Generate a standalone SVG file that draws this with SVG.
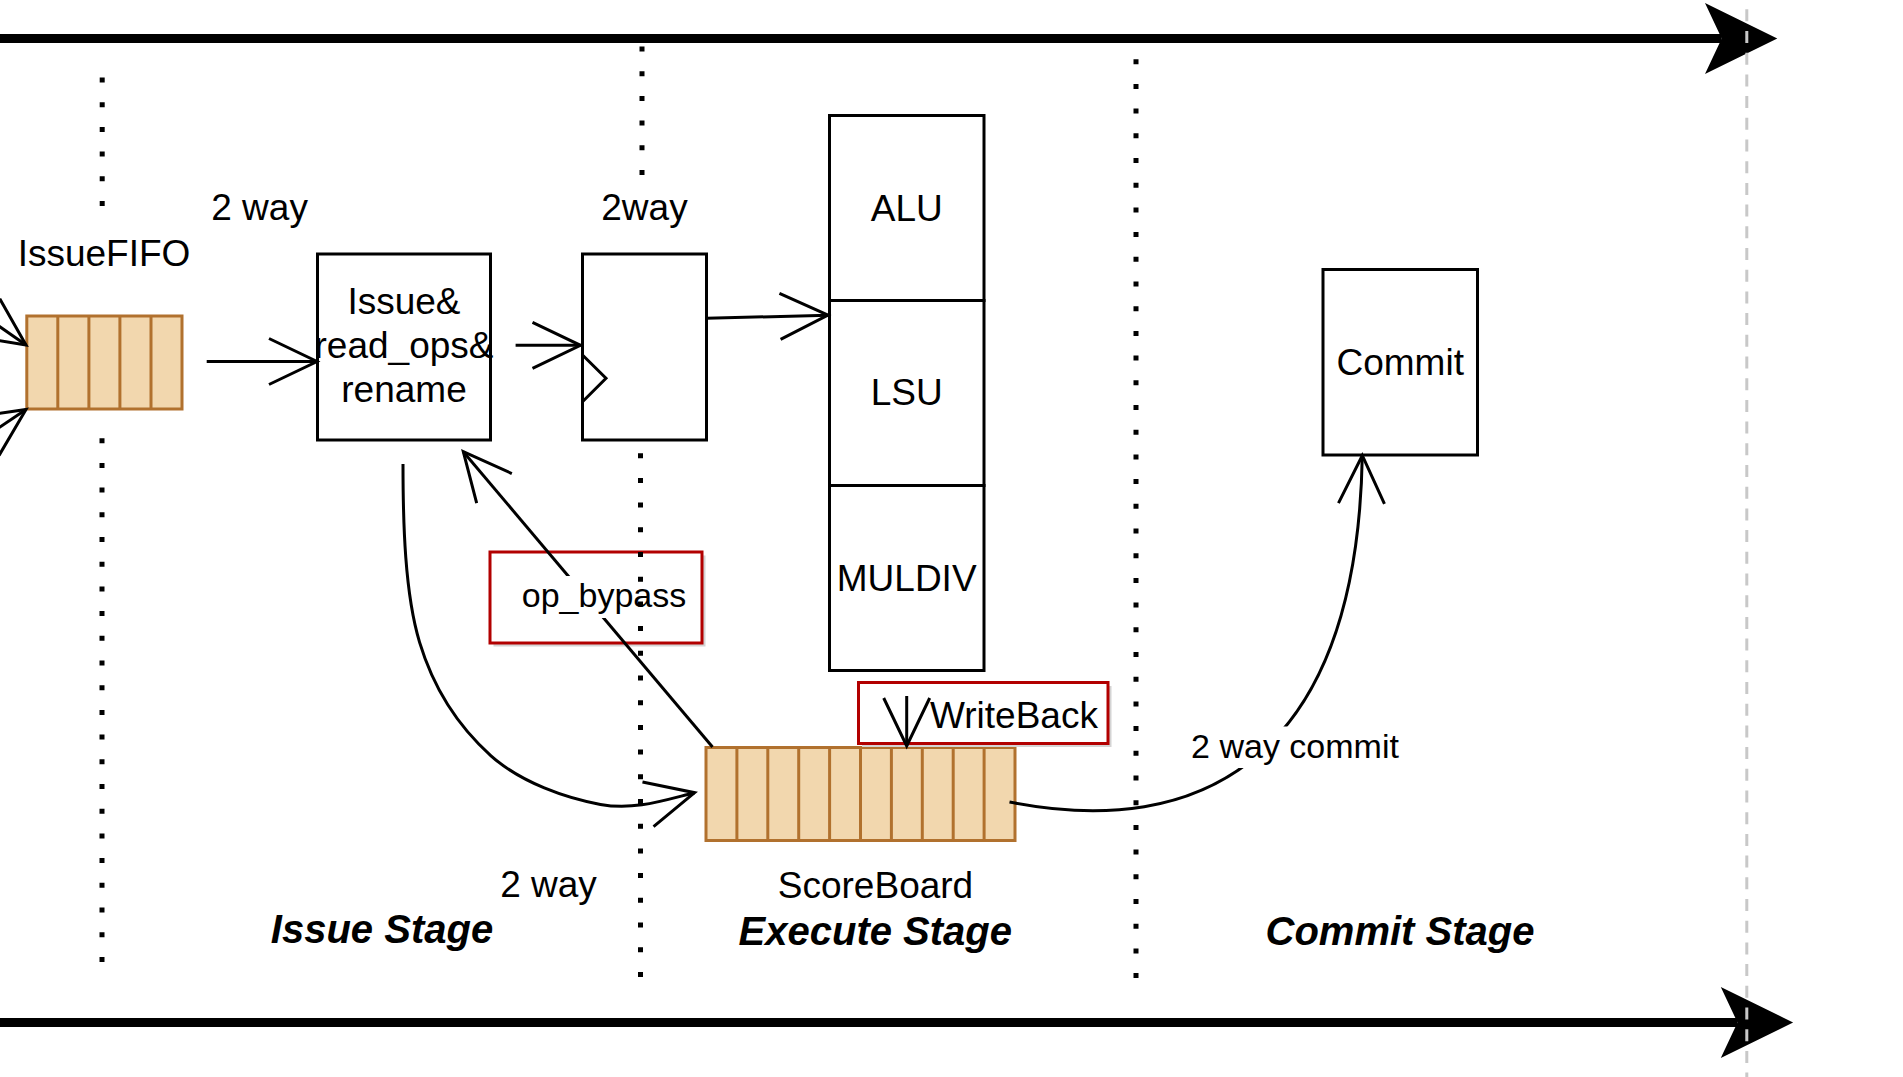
<svg xmlns="http://www.w3.org/2000/svg" width="1903" height="1077" viewBox="0 0 1903 1077">
  <style>
    .box { fill: #ffffff; stroke: #000000; stroke-width: 3; }
    .fifo { fill: #f2d7ae; stroke: #b1712e; stroke-width: 3; }
    .cell { stroke: #b1712e; stroke-width: 3; }
    .redbox { fill: #ffffff; stroke: #b20000; stroke-width: 3; }
    .shadow { fill: #d4d4d4; stroke: none; }
    .edge { fill: none; stroke: #000000; stroke-width: 3; marker-end: url(#open); }
    .timeline { stroke: #000000; stroke-width: 9; marker-end: url(#big); }
    .dots { stroke: #000000; stroke-width: 5; stroke-dasharray: 5 19.7; fill: none; }
    .gray { stroke: #c8c8c8; stroke-width: 3; stroke-dasharray: 12 9.7; stroke-dashoffset: 12.4; }
    text { font-family: "Liberation Sans", Arial, sans-serif; fill: #000000; text-anchor: middle; }
    .t36 { font-size: 37px; }
    .t34 { font-size: 34px; }
    .stage { font-size: 40px; font-weight: bold; font-style: italic; }
    .bg { fill: #ffffff; }
  </style>
  <defs>
    <marker id="open" markerUnits="userSpaceOnUse" viewBox="-54 -28 58 56" markerWidth="58" markerHeight="56" refX="0" refY="0" orient="auto">
      <path d="M-48,-23 L0,0 L-48,23" fill="none" stroke="#000000" stroke-width="3"/>
    </marker>
    <marker id="big" markerUnits="userSpaceOnUse" viewBox="-20 -40 80 80" markerWidth="80" markerHeight="80" refX="0" refY="0" orient="auto">
      <path d="M-16.7,-35.6 L55.6,0 L-16.7,35.6 L0,0 Z" fill="#000000"/>
    </marker>
  </defs>

  <rect width="1903" height="1077" fill="#ffffff"/>

  <!-- timeline arrows -->
  <g id="timelines">
    <line class="timeline" x1="-10" y1="38.5" x2="1721.7" y2="38.5"/>
    <line class="timeline" x1="-10" y1="1022.5" x2="1737.5" y2="1022.5"/>
  </g>

  <!-- nodes -->
  <g id="node-issuefifo">
    <rect class="fifo" x="26.8" y="316" width="155.2" height="93"/>
    <line class="cell" x1="57.8" y1="316" x2="57.8" y2="409"/>
    <line class="cell" x1="88.9" y1="316" x2="88.9" y2="409"/>
    <line class="cell" x1="119.9" y1="316" x2="119.9" y2="409"/>
    <line class="cell" x1="151" y1="316" x2="151" y2="409"/>
    <text class="t36" x="104" y="265.7">IssueFIFO</text>
  </g>

  <g id="node-issue">
    <rect class="box" x="317.5" y="254" width="173" height="186"/>
    <text class="t36" x="404" y="313.5">Issue&amp;</text>
    <text class="t36" x="404" y="357.5">read_ops&amp;</text>
    <text class="t36" x="404" y="401.5">rename</text>
  </g>

  <g id="node-register">
    <rect class="box" x="582.5" y="254" width="124" height="186"/>
    <path d="M582.5,355 L606,378.3 L582.5,401.7" fill="none" stroke="#000000" stroke-width="3"/>
  </g>

  <g id="node-alu">
    <rect class="box" x="829.5" y="115.5" width="154.5" height="185"/>
    <text class="t36" x="906.7" y="220.8">ALU</text>
  </g>
  <g id="node-lsu">
    <rect class="box" x="829.5" y="300.5" width="154.5" height="185"/>
    <text class="t36" x="906.7" y="405">LSU</text>
  </g>
  <g id="node-muldiv">
    <rect class="box" x="829.5" y="485.5" width="154.5" height="185"/>
    <text class="t36" x="906.7" y="590.5">MULDIV</text>
  </g>

  <g id="node-commit">
    <rect class="box" x="1323" y="269.5" width="154.5" height="185.5"/>
    <text class="t36" x="1400.2" y="374.5">Commit</text>
  </g>

  <g id="node-scoreboard">
    <rect class="fifo" x="706" y="747.5" width="309" height="93"/>
    <line class="cell" x1="736.9" y1="747.5" x2="736.9" y2="840.5"/>
    <line class="cell" x1="767.8" y1="747.5" x2="767.8" y2="840.5"/>
    <line class="cell" x1="798.7" y1="747.5" x2="798.7" y2="840.5"/>
    <line class="cell" x1="829.6" y1="747.5" x2="829.6" y2="840.5"/>
    <line class="cell" x1="860.5" y1="747.5" x2="860.5" y2="840.5"/>
    <line class="cell" x1="891.4" y1="747.5" x2="891.4" y2="840.5"/>
    <line class="cell" x1="922.3" y1="747.5" x2="922.3" y2="840.5"/>
    <line class="cell" x1="953.2" y1="747.5" x2="953.2" y2="840.5"/>
    <line class="cell" x1="984.1" y1="747.5" x2="984.1" y2="840.5"/>
    <text class="t36" x="875.5" y="898.3">ScoreBoard</text>
  </g>

  <g id="node-opbypass-box">
    <rect class="shadow" x="493.5" y="555.5" width="212" height="91"/>
    <rect class="redbox" x="490" y="552" width="212" height="91"/>
  </g>

  <g id="node-writeback">
    <rect class="shadow" x="862" y="686" width="249.5" height="61"/>
    <rect class="redbox" x="858.5" y="682.5" width="249.5" height="61"/>
    <text class="t36" x="1014" y="728.3">WriteBack</text>
  </g>

  <!-- connectors -->
  <g id="connectors">
    <path class="edge" d="M-40,299 L26,345"/>
    <path class="edge" d="M-40,454 L26,409.5"/>
    <path class="edge" d="M206.7,361.5 L317,361.5"/>
    <path class="edge" d="M515.6,345.3 L580.5,345.3"/>
    <path class="edge" d="M706.4,318.3 L828,315.2"/>
    <path class="edge" d="M712.5,747 L463.3,451.7"/>
    <path class="edge" d="M403,464 C403,524 404.9,593.8 419.6,642.4 C434.3,691 460.9,728.8 491,755.8 C521.1,782.8 566.5,798.2 600.4,804.4 C634.3,810.6 663.9,800.3 694.6,792.7"/>
    <path class="edge" d="M906.7,696 L906.7,746"/>
    <path class="edge" d="M1009.5,802 C1200,840 1357,760 1362.3,455.5"/>
  </g>

  <!-- edge labels -->
  <g id="edge-labels">
    <rect class="bg" x="521" y="576" width="166" height="42"/>
    <text class="t34" x="604" y="606.7">op_bypass</text>
    <rect class="bg" x="1189" y="726.5" width="212" height="41.5"/>
    <text class="t34" x="1295" y="757.7">2 way commit</text>
  </g>

  <!-- free labels -->
  <g id="labels">
    <text class="t36" x="259.6" y="220">2 way</text>
    <text class="t36" x="644.5" y="220">2way</text>
    <text class="t36" x="548.5" y="896.7">2 way</text>
    <text class="stage" x="382" y="943">Issue Stage</text>
    <text class="stage" x="875.3" y="945">Execute Stage</text>
    <text class="stage" x="1400" y="945">Commit Stage</text>
  </g>

  <!-- stage separators -->
  <g id="separators">
    <line class="dots" x1="102.2" y1="77.5" x2="102.2" y2="206"/>
    <line class="dots" x1="102" y1="438.2" x2="102" y2="962"/>
    <line class="dots" x1="642" y1="46.5" x2="642" y2="175"/>
    <line class="dots" x1="640.5" y1="453.2" x2="640.5" y2="977"/>
    <line class="dots" x1="1136" y1="59.2" x2="1136" y2="978"/>
    <line class="gray" x1="1746.8" y1="0" x2="1746.8" y2="1077"/>
  </g>
</svg>
